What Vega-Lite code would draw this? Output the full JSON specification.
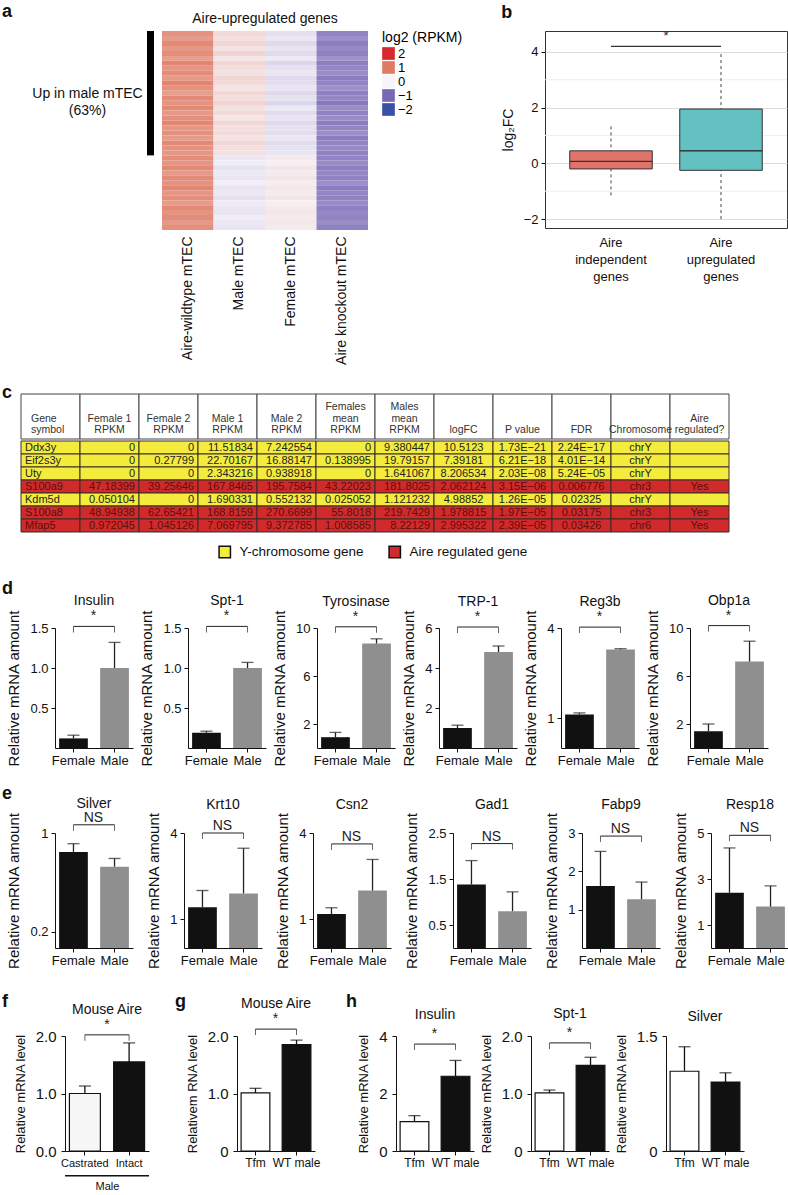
{
"$schema": "https://vega.github.io/schema/vega-lite/v6.json",
"padding": {"left": 2, "top": 2, "right": 0, "bottom": 0},
"config": {
  "font": "Liberation Sans",
  "view": {"stroke": null},
  "title": {"fontSize": 14, "fontWeight": "normal", "color": "#111", "offset": 1},
  "axis": {"labelFontSize": 13, "titleFontSize": 15, "titleFontWeight": "normal", "labelColor": "#111", "titleColor": "#111", "domainColor": "#111", "tickColor": "#111", "grid": false, "tickSize": 4, "labelPadding": 2, "titlePadding": 4},
  "axisY": {"titlePadding": 8, "labelPadding": 3},
  "axisX": {"labelAngle": 0}
},
"columns": 1,
"align": "none",
"spacing": 17,
"resolve": {"scale": {"color": "independent"}, "legend": {"color": "independent"}},
"concat": [
{
"columns": 1,
"align": "none",
"spacing": 18,
"resolve": {"scale": {"color": "independent"}, "legend": {"color": "independent"}},
"concat": [
{
  "title": {"text": "a", "anchor": "start", "fontSize": 18, "fontWeight": "bold", "offset": 0, "dy": 17},
  "resolve": {"scale": {"color": "independent"}, "legend": {"color": "independent"}},
  "spacing": 28,
  "hconcat": [
    {"width": 1, "height": 1, "data": {"values": []}, "mark": {"type": "point", "opacity": 0}},
    {
  "resolve": {"scale": {"color": "independent"}, "legend": {"color": "independent"}},
  "spacing": 37,
  "hconcat": [
    {
      "resolve": {"scale": {"color": "independent"}, "legend": {"color": "independent"}},
      "spacing": 8,
      "hconcat": [
        {
          "width": 7, "height": 199,
          "data": {"values": [{"s": 0, "e": 25}]},
          "mark": {"type": "rect", "color": "black"},
          "encoding": {
            "y": {"field": "s", "type": "quantitative", "scale": {"domain": [0, 40], "reverse": true, "nice": false, "zero": false},
                  "axis": {"values": [12.5], "labelExpr": "['Up in male mTEC','(63%)']", "labelAlign": "center", "labelPadding": 60, "ticks": false, "domain": false, "title": null, "labelFontSize": 14, "labelLineHeight": 17, "labelBaseline": "middle"}},
            "y2": {"field": "e"}
          }
        },
        {
          "width": 206, "height": 199,
          "title": {"text": "Aire-upregulated genes", "fontSize": 14, "offset": 5},
          "data": {"values": [
            {"g":1,"WT":0.80,"M":0.22,"F":-0.15,"KO":-0.80},
            {"g":2,"WT":0.72,"M":0.18,"F":-0.10,"KO":-0.72},
            {"g":3,"WT":0.88,"M":0.25,"F":-0.20,"KO":-0.85},
            {"g":4,"WT":0.76,"M":0.15,"F":-0.12,"KO":-0.76},
            {"g":5,"WT":0.84,"M":0.28,"F":-0.18,"KO":-0.82},
            {"g":6,"WT":0.70,"M":0.12,"F":-0.08,"KO":-0.70},
            {"g":7,"WT":0.90,"M":0.24,"F":-0.22,"KO":-0.84},
            {"g":8,"WT":0.78,"M":0.20,"F":-0.14,"KO":-0.78},
            {"g":9,"WT":0.85,"M":0.16,"F":-0.10,"KO":-0.74},
            {"g":10,"WT":0.74,"M":0.26,"F":-0.19,"KO":-0.86},
            {"g":11,"WT":0.92,"M":0.21,"F":-0.16,"KO":-0.80},
            {"g":12,"WT":0.80,"M":0.14,"F":-0.11,"KO":-0.71},
            {"g":13,"WT":0.71,"M":0.23,"F":-0.20,"KO":-0.83},
            {"g":14,"WT":0.86,"M":0.19,"F":-0.13,"KO":-0.77},
            {"g":15,"WT":0.79,"M":0.27,"F":-0.21,"KO":-0.88},
            {"g":16,"WT":0.88,"M":0.17,"F":-0.09,"KO":-0.73},
            {"g":17,"WT":0.75,"M":0.22,"F":-0.17,"KO":-0.81},
            {"g":18,"WT":0.83,"M":0.13,"F":-0.12,"KO":-0.75},
            {"g":19,"WT":0.90,"M":0.25,"F":-0.19,"KO":-0.84},
            {"g":20,"WT":0.77,"M":0.18,"F":-0.14,"KO":-0.79},
            {"g":21,"WT":0.82,"M":0.21,"F":-0.16,"KO":-0.72},
            {"g":22,"WT":0.73,"M":0.15,"F":-0.10,"KO":-0.86},
            {"g":23,"WT":0.87,"M":0.24,"F":-0.18,"KO":-0.80},
            {"g":24,"WT":0.80,"M":0.19,"F":-0.13,"KO":-0.76},
            {"g":25,"WT":0.76,"M":0.16,"F":-0.11,"KO":-0.82},
            {"g":26,"WT":0.84,"M":-0.10,"F":0.10,"KO":-0.80},
            {"g":27,"WT":0.78,"M":-0.06,"F":0.06,"KO":-0.74},
            {"g":28,"WT":0.88,"M":-0.13,"F":0.12,"KO":-0.84},
            {"g":29,"WT":0.74,"M":-0.08,"F":0.08,"KO":-0.78},
            {"g":30,"WT":0.86,"M":-0.11,"F":0.14,"KO":-0.82},
            {"g":31,"WT":0.80,"M":-0.05,"F":0.07,"KO":-0.72},
            {"g":32,"WT":0.90,"M":-0.12,"F":0.11,"KO":-0.86},
            {"g":33,"WT":0.77,"M":-0.09,"F":0.09,"KO":-0.79},
            {"g":34,"WT":0.83,"M":-0.14,"F":0.13,"KO":-0.81},
            {"g":35,"WT":0.72,"M":-0.07,"F":0.05,"KO":-0.75},
            {"g":36,"WT":0.87,"M":-0.10,"F":0.10,"KO":-0.83},
            {"g":37,"WT":0.79,"M":-0.12,"F":0.12,"KO":-0.77},
            {"g":38,"WT":0.85,"M":-0.06,"F":0.08,"KO":-0.80},
            {"g":39,"WT":0.75,"M":-0.09,"F":0.11,"KO":-0.74},
            {"g":40,"WT":0.82,"M":-0.11,"F":0.09,"KO":-0.82}
          ]},
          "transform": [{"fold": ["WT", "M", "F", "KO"], "as": ["sample", "v"]}],
          "mark": {"type": "rect"},
          "encoding": {
            "x": {"field": "sample", "type": "nominal", "sort": ["WT", "M", "F", "KO"],
                  "axis": {"title": null, "labelAngle": -90, "ticks": false, "domain": false, "labelFontSize": 14, "labelPadding": 6,
                           "labelExpr": "datum.value === 'WT' ? 'Aire-wildtype mTEC' : datum.value === 'M' ? 'Male  mTEC' : datum.value === 'F' ? 'Female mTEC' : 'Aire knockout mTEC'"}},
            "y": {"field": "g", "type": "ordinal", "axis": null},
            "color": {"field": "v", "type": "quantitative",
                      "scale": {"domain": [-2, -1, 0, 1, 2], "range": ["#3a4fa8", "#7868b6", "#f7f5fa", "#e07a62", "#d6282e"], "interpolate": "rgb"},
                      "legend": {"type": "symbol", "values": [2, 1, 0, -1, -2], "symbolType": "square", "symbolSize": 160, "symbolStrokeWidth": 0, "rowPadding": 0, "title": "log2 (RPKM)", "titleFontSize": 14, "titleFontWeight": "normal", "labelFontSize": 13, "offset": 14, "labelOffset": 3, "titlePadding": 2}}
          }
        }
      ]
    },
    {
      "width": 242, "height": 197,
      "title": {"text": "b", "anchor": "start", "fontSize": 18, "fontWeight": "bold", "offset": 8},
      "view": {"stroke": "#333", "strokeWidth": 1},
      "layer": [
        {"data": {"values": [{"m": -1}, {"m": 1}, {"m": 3}]},
         "mark": {"type": "rule", "color": "#eeeeee", "strokeWidth": 1},
         "encoding": {"y": {"field": "m", "type": "quantitative", "scale": {"domain": [-2.32, 4.75], "nice": false, "zero": false},
                            "axis": {"values": [-2, 0, 2, 4], "grid": true, "gridColor": "#dddddd", "title": "log₂FC", "titleFontSize": 14, "labelFontSize": 13, "domain": false, "titlePadding": 8}}}},
        {"mark": {"type": "rule", "color": "#c4342d", "strokeDash": [6, 4], "strokeWidth": 1.5}, "encoding": {"y": {"datum": 0}}},
        {"data": {"values": [
            {"grp": "Aire independent genes", "lo": -1.15, "q1": -0.2, "med": 0.07, "q3": 0.45, "hi": 1.4},
            {"grp": "Aire upregulated genes", "lo": -2.0, "q1": -0.25, "med": 0.45, "q3": 1.95, "hi": 4.0}
          ]},
         "encoding": {"x": {"field": "grp", "type": "nominal", "scale": {"paddingInner": 0.25, "paddingOuter": 0.225},
                            "axis": {"title": null, "labelExpr": "split(datum.label, ' ')", "ticks": false, "domain": false, "labelFontSize": 13, "labelLineHeight": 17, "labelPadding": 8}}},
         "layer": [
           {"mark": {"type": "rule", "strokeDash": [3, 3], "color": "#444"}, "encoding": {"y": {"field": "lo", "type": "quantitative"}, "y2": {"field": "hi"}}},
           {"mark": {"type": "bar", "stroke": "#333", "strokeWidth": 1}, "encoding": {"y": {"field": "q1", "type": "quantitative"}, "y2": {"field": "q3"},
               "color": {"field": "grp", "type": "nominal", "scale": {"range": ["#e0736a", "#63c1c2"]}, "legend": null}}},
           {"mark": {"type": "bar", "stroke": "#333", "strokeWidth": 1, "color": "#333"}, "encoding": {"y": {"field": "med", "type": "quantitative"}, "y2": {"field": "med"}}}
         ]},
        {"data": {"values": [{"grp": "Aire independent genes", "b": 4.2, "lab": "*"}, {"grp": "Aire upregulated genes", "b": 4.2, "lab": ""}]},
         "encoding": {"x": {"field": "grp", "type": "nominal"}},
         "layer": [
           {"mark": {"type": "line", "color": "#333", "strokeWidth": 1.2}, "encoding": {"y": {"field": "b", "type": "quantitative"}}},
           {"transform": [{"filter": "datum.lab != ''"}], "mark": {"type": "text", "dx": 55, "dy": -3, "baseline": "bottom", "fontSize": 13, "color": "#222"}, "encoding": {"y": {"field": "b", "type": "quantitative"}, "text": {"field": "lab"}}}
         ]}
      ]
    }
  ]
    }
  ]
},
{
  "title": {"text": "c", "anchor": "start", "fontSize": 18, "fontWeight": "bold", "offset": -8},
  "resolve": {"scale": {"color": "independent"}, "legend": {"color": "independent"}},
  "spacing": 17,
  "hconcat": [
    {"width": 1, "height": 1, "data": {"values": []}, "mark": {"type": "point", "opacity": 0}},
    {
  "resolve": {"scale": {"color": "independent"}, "legend": {"color": "independent"}},
  "spacing": 0,
  "vconcat": [
    {
      "width": 708, "height": 45,
      "data": {"values": [
        {"col": "g", "n": 2, "lab": "Gene\nsymbol"}, {"col": "f1", "n": 2, "lab": "Female 1\nRPKM"}, {"col": "f2", "n": 2, "lab": "Female 2\nRPKM"},
        {"col": "m1", "n": 2, "lab": "Male 1\nRPKM"}, {"col": "m2", "n": 2, "lab": "Male 2\nRPKM"}, {"col": "fm", "n": 3, "lab": "Females\nmean\nRPKM"},
        {"col": "mm", "n": 3, "lab": "Males\nmean\nRPKM"}, {"col": "lfc", "n": 1, "lab": "logFC"}, {"col": "p", "n": 1, "lab": "P value"},
        {"col": "fdr", "n": 1, "lab": "FDR"}, {"col": "chr", "n": 1, "lab": "Chromosome"}, {"col": "aire", "n": 2, "lab": "Aire\nregulated?"}
      ]},
      "encoding": {"x": {"field": "col", "type": "nominal", "sort": ["g","f1","f2","m1","m2","fm","mm","lfc","p","fdr","chr","aire"], "scale": {"paddingInner": 0, "paddingOuter": 0}, "axis": null}},
      "layer": [
        {"mark": {"type": "rect", "fill": "white", "stroke": "#444", "strokeWidth": 1}},
        {"transform": [{"filter": "datum.col != 'g' && datum.n == 1"}], "mark": {"type": "text", "lineBreak": "\n", "fontSize": 10.5, "lineHeight": 11.5, "baseline": "bottom", "y": "height", "dy": -4, "color": "#333"}, "encoding": {"text": {"field": "lab"}}},
        {"transform": [{"filter": "datum.col != 'g' && datum.n == 2"}], "mark": {"type": "text", "lineBreak": "\n", "fontSize": 10.5, "lineHeight": 11.5, "baseline": "bottom", "y": "height", "dy": -15.5, "color": "#333"}, "encoding": {"text": {"field": "lab"}}},
        {"transform": [{"filter": "datum.col != 'g' && datum.n == 3"}], "mark": {"type": "text", "lineBreak": "\n", "fontSize": 10.5, "lineHeight": 11.5, "baseline": "bottom", "y": "height", "dy": -27, "color": "#333"}, "encoding": {"text": {"field": "lab"}}},
        {"transform": [{"filter": "datum.col == 'g'"}], "mark": {"type": "text", "lineBreak": "\n", "fontSize": 10.5, "lineHeight": 11.5, "baseline": "bottom", "align": "left", "y": "height", "dy": -15.5, "dx": 10, "color": "#333"},
         "encoding": {"text": {"field": "lab"}, "x": {"field": "col", "type": "nominal", "bandPosition": 0}}}
      ]
    },
    {
      "width": 708, "height": 91,
      "data": {"values": [
        {"r":1,"type":"Y","g":"Ddx3y","f1":"0","f2":"0","m1":"11.51834","m2":"7.242554","fm":"0","mm":"9.380447","lfc":"10.5123","p":"1.73E−21","fdr":"2.24E−17","chr":"chrY","aire":""},
        {"r":2,"type":"Y","g":"Eif2s3y","f1":"0","f2":"0.27799","m1":"22.70167","m2":"16.88147","fm":"0.138995","mm":"19.79157","lfc":"7.39181","p":"6.21E−18","fdr":"4.01E−14","chr":"chrY","aire":""},
        {"r":3,"type":"Y","g":"Uty","f1":"0","f2":"0","m1":"2.343216","m2":"0.938918","fm":"0","mm":"1.641067","lfc":"8.206534","p":"2.03E−08","fdr":"5.24E−05","chr":"chrY","aire":""},
        {"r":4,"type":"A","g":"S100a9","f1":"47.18399","f2":"39.25646","m1":"167.8465","m2":"195.7584","fm":"43.22023","mm":"181.8025","lfc":"2.062124","p":"3.15E−06","fdr":"0.006776","chr":"chr3","aire":"Yes"},
        {"r":5,"type":"Y","g":"Kdm5d","f1":"0.050104","f2":"0","m1":"1.690331","m2":"0.552132","fm":"0.025052","mm":"1.121232","lfc":"4.98852","p":"1.26E−05","fdr":"0.02325","chr":"chrY","aire":""},
        {"r":6,"type":"A","g":"S100a8","f1":"48.94938","f2":"62.65421","m1":"168.8159","m2":"270.6699","fm":"55.8018","mm":"219.7429","lfc":"1.978815","p":"1.97E−05","fdr":"0.03175","chr":"chr3","aire":"Yes"},
        {"r":7,"type":"A","g":"Mfap5","f1":"0.972045","f2":"1.045126","m1":"7.069795","m2":"9.372785","fm":"1.008585","mm":"8.22129","lfc":"2.995322","p":"2.39E−05","fdr":"0.03426","chr":"chr6","aire":"Yes"}
      ]},
      "transform": [{"fold": ["g","f1","f2","m1","m2","fm","mm","lfc","p","fdr","chr","aire"], "as": ["col", "txt"]}],
      "encoding": {
        "x": {"field": "col", "type": "nominal", "sort": ["g","f1","f2","m1","m2","fm","mm","lfc","p","fdr","chr","aire"], "scale": {"paddingInner": 0, "paddingOuter": 0}, "axis": null},
        "y": {"field": "r", "type": "ordinal", "scale": {"paddingInner": 0, "paddingOuter": 0}, "axis": null}
      },
      "layer": [
        {"mark": {"type": "rect", "stroke": "#3b2b2b", "strokeWidth": 1},
         "encoding": {"color": {"field": "type", "type": "nominal", "scale": {"domain": ["Y", "A"], "range": ["#f4ec3c", "#d02a2a"]},
           "legend": {"title": null, "orient": "none", "legendX": 197, "legendY": 104, "direction": "horizontal", "symbolType": "square", "symbolSize": 130, "symbolStrokeColor": "#111", "symbolStrokeWidth": 1.5, "labelFontSize": 13.5, "labelColor": "#111", "columnPadding": 22, "labelOffset": 8,
                      "labelExpr": "datum.value === 'Y' ? 'Y-chromosome gene' : 'Aire regulated gene'"}}}},
        {"transform": [{"filter": "datum.col == 'g'"}], "mark": {"type": "text", "align": "left", "dx": 4, "fontSize": 11},
         "encoding": {"x": {"field": "col", "type": "nominal", "bandPosition": 0}, "text": {"field": "txt"}, "color": {"condition": {"test": "datum.type === 'A'", "value": "#5c0f0f"}, "value": "#222"}}},
        {"transform": [{"filter": "indexof(['f1','f2','m1','m2','fm','mm'], datum.col) >= 0"}], "mark": {"type": "text", "align": "right", "dx": -4, "fontSize": 11},
         "encoding": {"x": {"field": "col", "type": "nominal", "bandPosition": 1}, "text": {"field": "txt"}, "color": {"condition": {"test": "datum.type === 'A'", "value": "#5c0f0f"}, "value": "#222"}}},
        {"transform": [{"filter": "indexof(['lfc','p','fdr','chr','aire'], datum.col) >= 0"}], "mark": {"type": "text", "align": "center", "fontSize": 11},
         "encoding": {"text": {"field": "txt"}, "color": {"condition": {"test": "datum.type === 'A'", "value": "#5c0f0f"}, "value": "#222"}}}
      ]
    }
  ]
    }
  ]
},
{
  "title": {"text": "d", "anchor": "start", "fontSize": 18, "fontWeight": "bold", "offset": -4},
  "resolve": {"scale": {"color": "independent"}, "legend": {"color": "independent"}},
  "spacing": 3,
  "hconcat": [
    {"width": 1, "height": 1, "data": {"values": []}, "mark": {"type": "point", "opacity": 0}},
    {
  "resolve": {"scale": {"color": "independent"}, "legend": {"color": "independent"}},
  "spacing": 6,
  "hconcat": [
    {"width":78,"height":120,"title":"Insulin",
     "encoding":{"x":{"field":"grp","type":"nominal","sort":["Female","Male"],"scale":{"paddingInner":0.3,"paddingOuter":0.1},"axis":{"title":null}}},
     "layer":[
      {"data":{"values":[{"grp":"Female","v":0.12,"hi":0.16},{"grp":"Male","v":1.0,"hi":1.32}]},
       "layer":[
        {"mark":"bar","encoding":{"y":{"field":"v","type":"quantitative","scale":{"domain":[0,1.5],"nice":false},"axis":{"values":[0.5,1,1.5],"format":".1f","title":"Relative mRNA amount"}},"color":{"field":"grp","type":"nominal","scale":{"domain":["Female","Male"],"range":["#111111","#8f8f8f"]},"legend":null}}},
        {"mark":{"type":"rule","color":"#222","strokeWidth":1.3},"encoding":{"y":{"field":"v","type":"quantitative"},"y2":{"field":"hi"}}},
        {"mark":{"type":"tick","color":"#222","size":12,"thickness":1.3},"encoding":{"y":{"field":"hi","type":"quantitative"}}}]},
      {"data":{"values":[{"grp":"Female","b":1.52,"lab":"*"},{"grp":"Male","b":1.52,"lab":""}]},
       "layer":[
        {"mark":{"type":"line","color":"#222","strokeWidth":1},"encoding":{"y":{"field":"b","type":"quantitative"}}},
        {"mark":{"type":"tick","orient":"vertical","color":"#222","size":6,"thickness":1,"yOffset":3},"encoding":{"y":{"field":"b","type":"quantitative"}}},
        {"transform":[{"filter":"datum.lab != ''"}],"mark":{"type":"text","dx":20,"dy":-3,"baseline":"bottom","fontSize":14,"color":"#222"},"encoding":{"y":{"field":"b","type":"quantitative"},"text":{"field":"lab"}}}]}
     ]},
    {"width":78,"height":120,"title":"Spt-1",
     "encoding":{"x":{"field":"grp","type":"nominal","sort":["Female","Male"],"scale":{"paddingInner":0.3,"paddingOuter":0.1},"axis":{"title":null}}},
     "layer":[
      {"data":{"values":[{"grp":"Female","v":0.19,"hi":0.21},{"grp":"Male","v":1.0,"hi":1.07}]},
       "layer":[
        {"mark":"bar","encoding":{"y":{"field":"v","type":"quantitative","scale":{"domain":[0,1.5],"nice":false},"axis":{"values":[0.5,1,1.5],"format":".1f","title":"Relative mRNA amount"}},"color":{"field":"grp","type":"nominal","scale":{"domain":["Female","Male"],"range":["#111111","#8f8f8f"]},"legend":null}}},
        {"mark":{"type":"rule","color":"#222","strokeWidth":1.3},"encoding":{"y":{"field":"v","type":"quantitative"},"y2":{"field":"hi"}}},
        {"mark":{"type":"tick","color":"#222","size":12,"thickness":1.3},"encoding":{"y":{"field":"hi","type":"quantitative"}}}]},
      {"data":{"values":[{"grp":"Female","b":1.52,"lab":"*"},{"grp":"Male","b":1.52,"lab":""}]},
       "layer":[
        {"mark":{"type":"line","color":"#222","strokeWidth":1},"encoding":{"y":{"field":"b","type":"quantitative"}}},
        {"mark":{"type":"tick","orient":"vertical","color":"#222","size":6,"thickness":1,"yOffset":3},"encoding":{"y":{"field":"b","type":"quantitative"}}},
        {"transform":[{"filter":"datum.lab != ''"}],"mark":{"type":"text","dx":20,"dy":-3,"baseline":"bottom","fontSize":14,"color":"#222"},"encoding":{"y":{"field":"b","type":"quantitative"},"text":{"field":"lab"}}}]}
     ]},
    {"width":78,"height":120,"title":"Tyrosinase",
     "encoding":{"x":{"field":"grp","type":"nominal","sort":["Female","Male"],"scale":{"paddingInner":0.3,"paddingOuter":0.1},"axis":{"title":null}}},
     "layer":[
      {"data":{"values":[{"grp":"Female","v":0.9,"hi":1.3},{"grp":"Male","v":8.7,"hi":9.1}]},
       "layer":[
        {"mark":"bar","encoding":{"y":{"field":"v","type":"quantitative","scale":{"domain":[0,10],"nice":false},"axis":{"values":[2,6,10],"format":"d","title":"Relative mRNA amount"}},"color":{"field":"grp","type":"nominal","scale":{"domain":["Female","Male"],"range":["#111111","#8f8f8f"]},"legend":null}}},
        {"mark":{"type":"rule","color":"#222","strokeWidth":1.3},"encoding":{"y":{"field":"v","type":"quantitative"},"y2":{"field":"hi"}}},
        {"mark":{"type":"tick","color":"#222","size":12,"thickness":1.3},"encoding":{"y":{"field":"hi","type":"quantitative"}}}]},
      {"data":{"values":[{"grp":"Female","b":10.1,"lab":"*"},{"grp":"Male","b":10.1,"lab":""}]},
       "layer":[
        {"mark":{"type":"line","color":"#222","strokeWidth":1},"encoding":{"y":{"field":"b","type":"quantitative"}}},
        {"mark":{"type":"tick","orient":"vertical","color":"#222","size":6,"thickness":1,"yOffset":3},"encoding":{"y":{"field":"b","type":"quantitative"}}},
        {"transform":[{"filter":"datum.lab != ''"}],"mark":{"type":"text","dx":20,"dy":-3,"baseline":"bottom","fontSize":14,"color":"#222"},"encoding":{"y":{"field":"b","type":"quantitative"},"text":{"field":"lab"}}}]}
     ]},
    {"width":78,"height":120,"title":"TRP-1",
     "encoding":{"x":{"field":"grp","type":"nominal","sort":["Female","Male"],"scale":{"paddingInner":0.3,"paddingOuter":0.1},"axis":{"title":null}}},
     "layer":[
      {"data":{"values":[{"grp":"Female","v":1.0,"hi":1.14},{"grp":"Male","v":4.8,"hi":5.1}]},
       "layer":[
        {"mark":"bar","encoding":{"y":{"field":"v","type":"quantitative","scale":{"domain":[0,6],"nice":false},"axis":{"values":[2,4,6],"format":"d","title":"Relative mRNA amount"}},"color":{"field":"grp","type":"nominal","scale":{"domain":["Female","Male"],"range":["#111111","#8f8f8f"]},"legend":null}}},
        {"mark":{"type":"rule","color":"#222","strokeWidth":1.3},"encoding":{"y":{"field":"v","type":"quantitative"},"y2":{"field":"hi"}}},
        {"mark":{"type":"tick","color":"#222","size":12,"thickness":1.3},"encoding":{"y":{"field":"hi","type":"quantitative"}}}]},
      {"data":{"values":[{"grp":"Female","b":6.05,"lab":"*"},{"grp":"Male","b":6.05,"lab":""}]},
       "layer":[
        {"mark":{"type":"line","color":"#222","strokeWidth":1},"encoding":{"y":{"field":"b","type":"quantitative"}}},
        {"mark":{"type":"tick","orient":"vertical","color":"#222","size":6,"thickness":1,"yOffset":3},"encoding":{"y":{"field":"b","type":"quantitative"}}},
        {"transform":[{"filter":"datum.lab != ''"}],"mark":{"type":"text","dx":20,"dy":-3,"baseline":"bottom","fontSize":14,"color":"#222"},"encoding":{"y":{"field":"b","type":"quantitative"},"text":{"field":"lab"}}}]}
     ]},
    {"width":78,"height":120,"title":"Reg3b",
     "encoding":{"x":{"field":"grp","type":"nominal","sort":["Female","Male"],"scale":{"paddingInner":0.3,"paddingOuter":0.1},"axis":{"title":null}}},
     "layer":[
      {"data":{"values":[{"grp":"Female","v":1.12,"hi":1.17},{"grp":"Male","v":3.28,"hi":3.31}]},
       "layer":[
        {"mark":"bar","encoding":{"y":{"field":"v","type":"quantitative","scale":{"domain":[0,4],"nice":false},"axis":{"values":[1,2,3,4],"format":"d","title":"Relative mRNA amount"}},"color":{"field":"grp","type":"nominal","scale":{"domain":["Female","Male"],"range":["#111111","#8f8f8f"]},"legend":null}}},
        {"mark":{"type":"rule","color":"#222","strokeWidth":1.3},"encoding":{"y":{"field":"v","type":"quantitative"},"y2":{"field":"hi"}}},
        {"mark":{"type":"tick","color":"#222","size":12,"thickness":1.3},"encoding":{"y":{"field":"hi","type":"quantitative"}}}]},
      {"data":{"values":[{"grp":"Female","b":4.03,"lab":"*"},{"grp":"Male","b":4.03,"lab":""}]},
       "layer":[
        {"mark":{"type":"line","color":"#222","strokeWidth":1},"encoding":{"y":{"field":"b","type":"quantitative"}}},
        {"mark":{"type":"tick","orient":"vertical","color":"#222","size":6,"thickness":1,"yOffset":3},"encoding":{"y":{"field":"b","type":"quantitative"}}},
        {"transform":[{"filter":"datum.lab != ''"}],"mark":{"type":"text","dx":20,"dy":-3,"baseline":"bottom","fontSize":14,"color":"#222"},"encoding":{"y":{"field":"b","type":"quantitative"},"text":{"field":"lab"}}}]}
     ]},
    {"width":78,"height":120,"title":"Obp1a",
     "encoding":{"x":{"field":"grp","type":"nominal","sort":["Female","Male"],"scale":{"paddingInner":0.3,"paddingOuter":0.1},"axis":{"title":null}}},
     "layer":[
      {"data":{"values":[{"grp":"Female","v":1.4,"hi":2.0},{"grp":"Male","v":7.2,"hi":8.9}]},
       "layer":[
        {"mark":"bar","encoding":{"y":{"field":"v","type":"quantitative","scale":{"domain":[0,10],"nice":false},"axis":{"values":[2,4,6,8,10],"format":"d","title":"Relative mRNA amount"}},"color":{"field":"grp","type":"nominal","scale":{"domain":["Female","Male"],"range":["#111111","#8f8f8f"]},"legend":null}}},
        {"mark":{"type":"rule","color":"#222","strokeWidth":1.3},"encoding":{"y":{"field":"v","type":"quantitative"},"y2":{"field":"hi"}}},
        {"mark":{"type":"tick","color":"#222","size":12,"thickness":1.3},"encoding":{"y":{"field":"hi","type":"quantitative"}}}]},
      {"data":{"values":[{"grp":"Female","b":10.2,"lab":"*"},{"grp":"Male","b":10.2,"lab":""}]},
       "layer":[
        {"mark":{"type":"line","color":"#222","strokeWidth":1},"encoding":{"y":{"field":"b","type":"quantitative"}}},
        {"mark":{"type":"tick","orient":"vertical","color":"#222","size":6,"thickness":1,"yOffset":3},"encoding":{"y":{"field":"b","type":"quantitative"}}},
        {"transform":[{"filter":"datum.lab != ''"}],"mark":{"type":"text","dx":20,"dy":-3,"baseline":"bottom","fontSize":14,"color":"#222"},"encoding":{"y":{"field":"b","type":"quantitative"},"text":{"field":"lab"}}}]}
     ]}
  ]
    }
  ]
}
]
},
{
"columns": 1,
"align": "none",
"spacing": 24,
"resolve": {"scale": {"color": "independent"}, "legend": {"color": "independent"}},
"concat": [
{
  "title": {"text": "e", "anchor": "start", "fontSize": 18, "fontWeight": "bold", "offset": -6},
  "resolve": {"scale": {"color": "independent"}, "legend": {"color": "independent"}},
  "spacing": 3,
  "hconcat": [
    {"width": 1, "height": 1, "data": {"values": []}, "mark": {"type": "point", "opacity": 0}},
    {
  "resolve": {"scale": {"color": "independent"}, "legend": {"color": "independent"}},
  "spacing": 13,
  "hconcat": [
    {"width":78,"height":115,"title":{"text":"Silver","offset":0},
     "encoding":{"x":{"field":"grp","type":"nominal","sort":["Female","Male"],"scale":{"paddingInner":0.3,"paddingOuter":0.1},"axis":{"title":null}}},
     "layer":[
      {"data":{"values":[{"grp":"Female","v":1.17,"hi":1.27},{"grp":"Male","v":0.99,"hi":1.09}]},
       "layer":[
        {"mark":"bar","encoding":{"y":{"field":"v","type":"quantitative","scale":{"domain":[0,1.4],"nice":false},"axis":{"values":[0.2,0.6,1,1.4],"format":"~g","title":"Relative mRNA amount"}},"color":{"field":"grp","type":"nominal","scale":{"domain":["Female","Male"],"range":["#111111","#8f8f8f"]},"legend":null}}},
        {"mark":{"type":"rule","color":"#222","strokeWidth":1.3},"encoding":{"y":{"field":"v","type":"quantitative"},"y2":{"field":"hi"}}},
        {"mark":{"type":"tick","color":"#222","size":12,"thickness":1.3},"encoding":{"y":{"field":"hi","type":"quantitative"}}}]},
      {"data":{"values":[{"grp":"Female","b":1.5,"lab":"NS"},{"grp":"Male","b":1.5,"lab":""}]},
       "layer":[
        {"mark":{"type":"line","color":"#222","strokeWidth":1},"encoding":{"y":{"field":"b","type":"quantitative"}}},
        {"mark":{"type":"tick","orient":"vertical","color":"#222","size":6,"thickness":1,"yOffset":3},"encoding":{"y":{"field":"b","type":"quantitative"}}},
        {"transform":[{"filter":"datum.lab != ''"}],"mark":{"type":"text","dx":20,"dy":-3,"baseline":"alphabetic","fontSize":14,"color":"#222"},"encoding":{"y":{"field":"b","type":"quantitative"},"text":{"field":"lab"}}}]}
     ]},
    {"width":78,"height":115,"title":{"text":"Krt10","offset":0},
     "encoding":{"x":{"field":"grp","type":"nominal","sort":["Female","Male"],"scale":{"paddingInner":0.3,"paddingOuter":0.1},"axis":{"title":null}}},
     "layer":[
      {"data":{"values":[{"grp":"Female","v":1.42,"hi":2.0},{"grp":"Male","v":1.9,"hi":3.47}]},
       "layer":[
        {"mark":"bar","encoding":{"y":{"field":"v","type":"quantitative","scale":{"domain":[0,4],"nice":false},"axis":{"values":[1,2,3,4],"format":"d","title":"Relative mRNA amount"}},"color":{"field":"grp","type":"nominal","scale":{"domain":["Female","Male"],"range":["#111111","#8f8f8f"]},"legend":null}}},
        {"mark":{"type":"rule","color":"#222","strokeWidth":1.3},"encoding":{"y":{"field":"v","type":"quantitative"},"y2":{"field":"hi"}}},
        {"mark":{"type":"tick","color":"#222","size":12,"thickness":1.3},"encoding":{"y":{"field":"hi","type":"quantitative"}}}]},
      {"data":{"values":[{"grp":"Female","b":4.0,"lab":"NS"},{"grp":"Male","b":4.0,"lab":""}]},
       "layer":[
        {"mark":{"type":"line","color":"#222","strokeWidth":1},"encoding":{"y":{"field":"b","type":"quantitative"}}},
        {"mark":{"type":"tick","orient":"vertical","color":"#222","size":6,"thickness":1,"yOffset":3},"encoding":{"y":{"field":"b","type":"quantitative"}}},
        {"transform":[{"filter":"datum.lab != ''"}],"mark":{"type":"text","dx":20,"dy":-3,"baseline":"alphabetic","fontSize":14,"color":"#222"},"encoding":{"y":{"field":"b","type":"quantitative"},"text":{"field":"lab"}}}]}
     ]},
    {"width":78,"height":115,"title":{"text":"Csn2","offset":0},
     "encoding":{"x":{"field":"grp","type":"nominal","sort":["Female","Male"],"scale":{"paddingInner":0.3,"paddingOuter":0.1},"axis":{"title":null}}},
     "layer":[
      {"data":{"values":[{"grp":"Female","v":1.18,"hi":1.4},{"grp":"Male","v":2.0,"hi":3.08}]},
       "layer":[
        {"mark":"bar","encoding":{"y":{"field":"v","type":"quantitative","scale":{"domain":[0,4],"nice":false},"axis":{"values":[1,2,3,4],"format":"d","title":"Relative mRNA amount"}},"color":{"field":"grp","type":"nominal","scale":{"domain":["Female","Male"],"range":["#111111","#8f8f8f"]},"legend":null}}},
        {"mark":{"type":"rule","color":"#222","strokeWidth":1.3},"encoding":{"y":{"field":"v","type":"quantitative"},"y2":{"field":"hi"}}},
        {"mark":{"type":"tick","color":"#222","size":12,"thickness":1.3},"encoding":{"y":{"field":"hi","type":"quantitative"}}}]},
      {"data":{"values":[{"grp":"Female","b":3.62,"lab":"NS"},{"grp":"Male","b":3.62,"lab":""}]},
       "layer":[
        {"mark":{"type":"line","color":"#222","strokeWidth":1},"encoding":{"y":{"field":"b","type":"quantitative"}}},
        {"mark":{"type":"tick","orient":"vertical","color":"#222","size":6,"thickness":1,"yOffset":3},"encoding":{"y":{"field":"b","type":"quantitative"}}},
        {"transform":[{"filter":"datum.lab != ''"}],"mark":{"type":"text","dx":20,"dy":-3,"baseline":"alphabetic","fontSize":14,"color":"#222"},"encoding":{"y":{"field":"b","type":"quantitative"},"text":{"field":"lab"}}}]}
     ]},
    {"width":78,"height":115,"title":{"text":"Gad1","offset":0},
     "encoding":{"x":{"field":"grp","type":"nominal","sort":["Female","Male"],"scale":{"paddingInner":0.3,"paddingOuter":0.1},"axis":{"title":null}}},
     "layer":[
      {"data":{"values":[{"grp":"Female","v":1.38,"hi":1.9},{"grp":"Male","v":0.8,"hi":1.22}]},
       "layer":[
        {"mark":"bar","encoding":{"y":{"field":"v","type":"quantitative","scale":{"domain":[0,2.5],"nice":false},"axis":{"values":[0.5,1,1.5,2,2.5],"format":".1f","title":"Relative mRNA amount"}},"color":{"field":"grp","type":"nominal","scale":{"domain":["Female","Male"],"range":["#111111","#8f8f8f"]},"legend":null}}},
        {"mark":{"type":"rule","color":"#222","strokeWidth":1.3},"encoding":{"y":{"field":"v","type":"quantitative"},"y2":{"field":"hi"}}},
        {"mark":{"type":"tick","color":"#222","size":12,"thickness":1.3},"encoding":{"y":{"field":"hi","type":"quantitative"}}}]},
      {"data":{"values":[{"grp":"Female","b":2.27,"lab":"NS"},{"grp":"Male","b":2.27,"lab":""}]},
       "layer":[
        {"mark":{"type":"line","color":"#222","strokeWidth":1},"encoding":{"y":{"field":"b","type":"quantitative"}}},
        {"mark":{"type":"tick","orient":"vertical","color":"#222","size":6,"thickness":1,"yOffset":3},"encoding":{"y":{"field":"b","type":"quantitative"}}},
        {"transform":[{"filter":"datum.lab != ''"}],"mark":{"type":"text","dx":20,"dy":-3,"baseline":"alphabetic","fontSize":14,"color":"#222"},"encoding":{"y":{"field":"b","type":"quantitative"},"text":{"field":"lab"}}}]}
     ]},
    {"width":78,"height":115,"title":{"text":"Fabp9","offset":0},
     "encoding":{"x":{"field":"grp","type":"nominal","sort":["Female","Male"],"scale":{"paddingInner":0.3,"paddingOuter":0.1},"axis":{"title":null}}},
     "layer":[
      {"data":{"values":[{"grp":"Female","v":1.62,"hi":2.52},{"grp":"Male","v":1.27,"hi":1.72}]},
       "layer":[
        {"mark":"bar","encoding":{"y":{"field":"v","type":"quantitative","scale":{"domain":[0,3],"nice":false},"axis":{"values":[1,2,3],"format":"d","title":"Relative mRNA amount"}},"color":{"field":"grp","type":"nominal","scale":{"domain":["Female","Male"],"range":["#111111","#8f8f8f"]},"legend":null}}},
        {"mark":{"type":"rule","color":"#222","strokeWidth":1.3},"encoding":{"y":{"field":"v","type":"quantitative"},"y2":{"field":"hi"}}},
        {"mark":{"type":"tick","color":"#222","size":12,"thickness":1.3},"encoding":{"y":{"field":"hi","type":"quantitative"}}}]},
      {"data":{"values":[{"grp":"Female","b":2.92,"lab":"NS"},{"grp":"Male","b":2.92,"lab":""}]},
       "layer":[
        {"mark":{"type":"line","color":"#222","strokeWidth":1},"encoding":{"y":{"field":"b","type":"quantitative"}}},
        {"mark":{"type":"tick","orient":"vertical","color":"#222","size":6,"thickness":1,"yOffset":3},"encoding":{"y":{"field":"b","type":"quantitative"}}},
        {"transform":[{"filter":"datum.lab != ''"}],"mark":{"type":"text","dx":20,"dy":-3,"baseline":"alphabetic","fontSize":14,"color":"#222"},"encoding":{"y":{"field":"b","type":"quantitative"},"text":{"field":"lab"}}}]}
     ]},
    {"width":78,"height":115,"title":{"text":"Resp18","offset":0},
     "encoding":{"x":{"field":"grp","type":"nominal","sort":["Female","Male"],"scale":{"paddingInner":0.3,"paddingOuter":0.1},"axis":{"title":null}}},
     "layer":[
      {"data":{"values":[{"grp":"Female","v":2.4,"hi":4.35},{"grp":"Male","v":1.8,"hi":2.7}]},
       "layer":[
        {"mark":"bar","encoding":{"y":{"field":"v","type":"quantitative","scale":{"domain":[0,5],"nice":false},"axis":{"values":[1,2,3,4,5],"format":"d","title":"Relative mRNA amount"}},"color":{"field":"grp","type":"nominal","scale":{"domain":["Female","Male"],"range":["#111111","#8f8f8f"]},"legend":null}}},
        {"mark":{"type":"rule","color":"#222","strokeWidth":1.3},"encoding":{"y":{"field":"v","type":"quantitative"},"y2":{"field":"hi"}}},
        {"mark":{"type":"tick","color":"#222","size":12,"thickness":1.3},"encoding":{"y":{"field":"hi","type":"quantitative"}}}]},
      {"data":{"values":[{"grp":"Female","b":4.9,"lab":"NS"},{"grp":"Male","b":4.9,"lab":""}]},
       "layer":[
        {"mark":{"type":"line","color":"#222","strokeWidth":1},"encoding":{"y":{"field":"b","type":"quantitative"}}},
        {"mark":{"type":"tick","orient":"vertical","color":"#222","size":6,"thickness":1,"yOffset":3},"encoding":{"y":{"field":"b","type":"quantitative"}}},
        {"transform":[{"filter":"datum.lab != ''"}],"mark":{"type":"text","dx":20,"dy":-3,"baseline":"alphabetic","fontSize":14,"color":"#222"},"encoding":{"y":{"field":"b","type":"quantitative"},"text":{"field":"lab"}}}]}
     ]}
  ]
    }
  ]
},
{
  "resolve": {"scale": {"color": "independent"}, "legend": {"color": "independent"}},
  "spacing": 25,
  "hconcat": [
    {
      "resolve": {"scale": {"color": "independent"}, "legend": {"color": "independent"}},
      "spacing": 6,
      "hconcat": [
        {"width": 1, "height": 115, "title": {"text": "f", "anchor": "start", "fontSize": 18, "fontWeight": "bold", "offset": 25}, "data": {"values": []}, "mark": {"type": "point", "opacity": 0}},
        {"width":84,"height":115,"title":"Mouse Aire",
         "layer":[
          {"data":{"values":[{"grp":"Castrated","v":1.0,"hi":1.13},{"grp":"Intact","v":1.55,"hi":1.88}]},
           "encoding":{"x":{"field":"grp","type":"nominal","sort":["Castrated","Intact"],"scale":{"paddingInner":0.3,"paddingOuter":0.1},"axis":{"title":"Male","labelFontSize":11,"titleFontSize":11,"titlePadding":12}}},
           "layer":[
            {"mark":{"type":"bar","stroke":"#111","strokeWidth":1.2},"encoding":{"y":{"field":"v","type":"quantitative","scale":{"domain":[0,2],"nice":false},"axis":{"values":[0,0.5,1,1.5,2],"format":".1f","title":"Relative mRNA level","titleFontSize":13,"labelFontSize":15,"labelPadding":5}},"color":{"field":"grp","type":"nominal","scale":{"domain":["Castrated","Intact"],"range":["#f7f7f7","#111111"]},"legend":null}}},
            {"mark":{"type":"rule","color":"#111","strokeWidth":1.3},"encoding":{"y":{"field":"v","type":"quantitative"},"y2":{"field":"hi"}}},
            {"mark":{"type":"tick","color":"#111","size":12,"thickness":1.3},"encoding":{"y":{"field":"hi","type":"quantitative"}}}]},
          {"data":{"values":[{"grp":"Castrated","b":2.02,"lab":"*"},{"grp":"Intact","b":2.02,"lab":""}]},
           "encoding":{"x":{"field":"grp","type":"nominal","sort":["Castrated","Intact"]}},
           "layer":[
            {"mark":{"type":"line","color":"#222","strokeWidth":1},"encoding":{"y":{"field":"b","type":"quantitative"}}},
            {"mark":{"type":"tick","orient":"vertical","color":"#222","size":6,"thickness":1,"yOffset":3},"encoding":{"y":{"field":"b","type":"quantitative"}}},
            {"transform":[{"filter":"datum.lab != ''"}],"mark":{"type":"text","dx":22,"dy":-3,"baseline":"bottom","fontSize":14,"color":"#222"},"encoding":{"y":{"field":"b","type":"quantitative"},"text":{"field":"lab"}}}]},
          {"data":{"values":[{"u":-0.43}]},"mark":{"type":"rule","color":"#111","strokeWidth":1.5},"encoding":{"y":{"field":"u","type":"quantitative"}}}
         ]}
      ]
    },
    {
      "resolve": {"scale": {"color": "independent"}, "legend": {"color": "independent"}},
      "spacing": 0,
      "hconcat": [
        {"width": 1, "height": 115, "title": {"text": "g", "anchor": "start", "fontSize": 18, "fontWeight": "bold", "offset": 25}, "data": {"values": []}, "mark": {"type": "point", "opacity": 0}},
        {"width":78,"height":115,"title":"Mouse Aire",
         "encoding":{"x":{"field":"grp","type":"nominal","sort":["Tfm","WT male"],"scale":{"paddingInner":0.3,"paddingOuter":0.1},"axis":{"title":null,"labelFontSize":12}}},
         "layer":[
          {"data":{"values":[{"grp":"Tfm","v":1.01,"hi":1.09},{"grp":"WT male","v":1.85,"hi":1.93}]},
           "layer":[
            {"mark":{"type":"bar","stroke":"#111","strokeWidth":1.2},"encoding":{"y":{"field":"v","type":"quantitative","scale":{"domain":[0,2],"nice":false},"axis":{"values":[0,0.5,1,1.5,2],"labelExpr":"datum.value === 0 ? '0' : format(datum.value, '.1f')","title":"Relativem RNA level","titleFontSize":13,"labelFontSize":15,"labelPadding":5}},"color":{"field":"grp","type":"nominal","scale":{"domain":["Tfm","WT male"],"range":["#ffffff","#111111"]},"legend":null}}},
            {"mark":{"type":"rule","color":"#111","strokeWidth":1.3},"encoding":{"y":{"field":"v","type":"quantitative"},"y2":{"field":"hi"}}},
            {"mark":{"type":"tick","color":"#111","size":12,"thickness":1.3},"encoding":{"y":{"field":"hi","type":"quantitative"}}}]},
          {"data":{"values":[{"grp":"Tfm","b":2.12,"lab":"*"},{"grp":"WT male","b":2.12,"lab":""}]},
           "layer":[
            {"mark":{"type":"line","color":"#222","strokeWidth":1},"encoding":{"y":{"field":"b","type":"quantitative"}}},
            {"mark":{"type":"tick","orient":"vertical","color":"#222","size":6,"thickness":1,"yOffset":3},"encoding":{"y":{"field":"b","type":"quantitative"}}},
            {"transform":[{"filter":"datum.lab != ''"}],"mark":{"type":"text","dx":20,"dy":-3,"baseline":"bottom","fontSize":14,"color":"#222"},"encoding":{"y":{"field":"b","type":"quantitative"},"text":{"field":"lab"}}}]}
         ]}
      ]
    },
    {
     "resolve": {"scale": {"color": "independent"}, "legend": {"color": "independent"}},
     "spacing": 0,
     "hconcat": [
      {"width": 1, "height": 115, "title": {"text": "h", "anchor": "start", "fontSize": 18, "fontWeight": "bold", "offset": 25}, "data": {"values": []}, "mark": {"type": "point", "opacity": 0}},
      {
     "resolve": {"scale": {"color": "independent"}, "legend": {"color": "independent"}},
     "spacing": 0,
     "hconcat": [
      {"width":78,"height":115,"title":{"text":"Insulin","offset":5},
       "encoding":{"x":{"field":"grp","type":"nominal","sort":["Tfm","WT male"],"scale":{"paddingInner":0.3,"paddingOuter":0.1},"axis":{"title":null,"labelFontSize":12}}},
       "layer":[
        {"data":{"values":[{"grp":"Tfm","v":1.02,"hi":1.23},{"grp":"WT male","v":2.6,"hi":3.15}]},
         "layer":[
          {"mark":{"type":"bar","stroke":"#111","strokeWidth":1.2},"encoding":{"y":{"field":"v","type":"quantitative","scale":{"domain":[0,4],"nice":false},"axis":{"values":[0,1,2,3,4],"format":"d","title":"Relative mRNA level","titleFontSize":13,"labelFontSize":15,"labelPadding":5}},"color":{"field":"grp","type":"nominal","scale":{"domain":["Tfm","WT male"],"range":["#ffffff","#111111"]},"legend":null}}},
          {"mark":{"type":"rule","color":"#111","strokeWidth":1.3},"encoding":{"y":{"field":"v","type":"quantitative"},"y2":{"field":"hi"}}},
          {"mark":{"type":"tick","color":"#111","size":12,"thickness":1.3},"encoding":{"y":{"field":"hi","type":"quantitative"}}}]},
        {"data":{"values":[{"grp":"Tfm","b":3.72,"lab":"*"},{"grp":"WT male","b":3.72,"lab":""}]},
         "layer":[
          {"mark":{"type":"line","color":"#222","strokeWidth":1},"encoding":{"y":{"field":"b","type":"quantitative"}}},
          {"mark":{"type":"tick","orient":"vertical","color":"#222","size":6,"thickness":1,"yOffset":3},"encoding":{"y":{"field":"b","type":"quantitative"}}},
          {"transform":[{"filter":"datum.lab != ''"}],"mark":{"type":"text","dx":20,"dy":-3,"baseline":"bottom","fontSize":14,"color":"#222"},"encoding":{"y":{"field":"b","type":"quantitative"},"text":{"field":"lab"}}}]}
       ]},
      {"width":78,"height":115,"title":{"text":"Spt-1","offset":5},
       "encoding":{"x":{"field":"grp","type":"nominal","sort":["Tfm","WT male"],"scale":{"paddingInner":0.3,"paddingOuter":0.1},"axis":{"title":null,"labelFontSize":12}}},
       "layer":[
        {"data":{"values":[{"grp":"Tfm","v":1.01,"hi":1.06},{"grp":"WT male","v":1.49,"hi":1.63}]},
         "layer":[
          {"mark":{"type":"bar","stroke":"#111","strokeWidth":1.2},"encoding":{"y":{"field":"v","type":"quantitative","scale":{"domain":[0,2],"nice":false},"axis":{"values":[0,0.5,1,1.5,2],"labelExpr":"datum.value === 0 ? '0' : format(datum.value, '.1f')","title":"Relative mRNA level","titleFontSize":13,"labelFontSize":15,"labelPadding":5}},"color":{"field":"grp","type":"nominal","scale":{"domain":["Tfm","WT male"],"range":["#ffffff","#111111"]},"legend":null}}},
          {"mark":{"type":"rule","color":"#111","strokeWidth":1.3},"encoding":{"y":{"field":"v","type":"quantitative"},"y2":{"field":"hi"}}},
          {"mark":{"type":"tick","color":"#111","size":12,"thickness":1.3},"encoding":{"y":{"field":"hi","type":"quantitative"}}}]},
        {"data":{"values":[{"grp":"Tfm","b":1.88,"lab":"*"},{"grp":"WT male","b":1.88,"lab":""}]},
         "layer":[
          {"mark":{"type":"line","color":"#222","strokeWidth":1},"encoding":{"y":{"field":"b","type":"quantitative"}}},
          {"mark":{"type":"tick","orient":"vertical","color":"#222","size":6,"thickness":1,"yOffset":3},"encoding":{"y":{"field":"b","type":"quantitative"}}},
          {"transform":[{"filter":"datum.lab != ''"}],"mark":{"type":"text","dx":20,"dy":-3,"baseline":"bottom","fontSize":14,"color":"#222"},"encoding":{"y":{"field":"b","type":"quantitative"},"text":{"field":"lab"}}}]}
       ]},
      {"width":78,"height":115,"title":{"text":"Silver","offset":5},
       "encoding":{"x":{"field":"grp","type":"nominal","sort":["Tfm","WT male"],"scale":{"paddingInner":0.3,"paddingOuter":0.1},"axis":{"title":null,"labelFontSize":12}}},
       "layer":[
        {"data":{"values":[{"grp":"Tfm","v":1.04,"hi":1.36},{"grp":"WT male","v":0.9,"hi":1.02}]},
         "layer":[
          {"mark":{"type":"bar","stroke":"#111","strokeWidth":1.2},"encoding":{"y":{"field":"v","type":"quantitative","scale":{"domain":[0,1.5],"nice":false},"axis":{"values":[0,0.5,1,1.5],"labelExpr":"datum.value === 0 ? '0' : format(datum.value, '.1f')","title":"Relative mRNA level","titleFontSize":13,"labelFontSize":15,"labelPadding":5}},"color":{"field":"grp","type":"nominal","scale":{"domain":["Tfm","WT male"],"range":["#ffffff","#111111"]},"legend":null}}},
          {"mark":{"type":"rule","color":"#111","strokeWidth":1.3},"encoding":{"y":{"field":"v","type":"quantitative"},"y2":{"field":"hi"}}},
          {"mark":{"type":"tick","color":"#111","size":12,"thickness":1.3},"encoding":{"y":{"field":"hi","type":"quantitative"}}}]}
       ]}
     ]}
     ]}
  ]
}
]
}
]
}
